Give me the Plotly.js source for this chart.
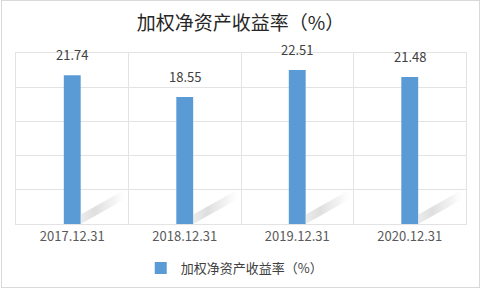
<!DOCTYPE html>
<html>
<head>
<meta charset="utf-8">
<script src="https://cdn.plot.ly/plotly-3.0.1.min.js"></script>
<style>
  html, body { margin: 0; padding: 0; background: #ffffff; }
  #wrap { position: relative; width: 481px; height: 289px; }
  #chart { position: absolute; left: 0; top: 0; width: 481px; height: 289px; }
  #frame { position: absolute; left: 1px; top: 0px; width: 477px; height: 286px;
           border: 1px solid #d9d9d9; pointer-events: none; }
</style>
</head>
<body>
<div id="wrap">
  <div id="chart"></div>
  <div id="frame"></div>
</div>
<script>
// Weighted return on equity by reporting date
const seriesName = '加权净资产收益率（%）';
const dates = ['2017.12.31', '2018.12.31', '2019.12.31', '2020.12.31'];
const roe = [21.74, 18.55, 22.51, 21.48];

const FONT = '"Microsoft YaHei", "Noto Sans CJK SC", "Noto Sans", sans-serif';
const BLUE = '#5b9bd5';

const traces = [];

// soft floor shadow behind each bar, drawn on a hidden numeric axis
dates.forEach(function (d, i) {
  traces.push({
    type: 'scatter',
    x: [i + 0.075, i + 0.075, i + 0.5, i + 0.5],
    y: [0.0, 1.4, 5.3, 3.9],
    xaxis: 'x2',
    yaxis: 'y',
    mode: 'lines',
    line: { width: 0 },
    fill: 'toself',
    fillcolor: 'rgba(200,200,200,0.4)',
    fillgradient: {
      type: 'horizontal',
      colorscale: [[0, 'rgba(215,215,215,0.5)'], [0.3, 'rgba(205,205,205,0.65)'], [0.7, 'rgba(225,225,225,0.4)'], [1, 'rgba(255,255,255,0)']]
    },
    showlegend: false,
    hoverinfo: 'skip'
  });
});

traces.push({
  type: 'bar',
  name: seriesName,
  x: dates,
  y: roe,
  width: 0.15,
  marker: { color: BLUE },
  hoverinfo: 'x+y'
});

const annotations = dates.map(function (d, i) {
  return {
    x: d, y: roe[i], xref: 'x', yref: 'y',
    text: roe[i].toFixed(2),
    showarrow: false, yanchor: 'bottom', yshift: 9,
    font: { family: FONT, size: 13, color: '#404040' }
  };
});

const layout = {
  width: 481, height: 289,
  margin: { l: 16, r: 15, t: 53, b: 65 },
  paper_bgcolor: '#ffffff',
  plot_bgcolor: '#ffffff',
  title: {
    text: seriesName,
    x: 0.5, xanchor: 'center',
    y: 1 - 23 / 289, yanchor: 'middle',
    font: { family: FONT, size: 19, color: '#262626' }
  },
  xaxis: {
    type: 'category',
    range: [-0.5, 3.5],
    tickson: 'boundaries',
    ticks: '',
    showgrid: true,
    gridcolor: '#e3e3e3',
    showline: true, mirror: true, linecolor: '#e3e3e3', linewidth: 1,
    tickfont: { family: FONT, size: 13, color: '#595959' },
    fixedrange: true
  },
  xaxis2: {
    overlaying: 'x',
    range: [-0.5, 3.5],
    visible: false,
    fixedrange: true
  },
  yaxis: {
    range: [0, 25],
    dtick: 5,
    showticklabels: false,
    ticks: '',
    showgrid: true,
    gridcolor: '#e3e3e3',
    zeroline: false,
    showline: true, mirror: true, linecolor: '#e3e3e3',
    fixedrange: true
  },
  showlegend: true,
  legend: {
    orientation: 'h',
    x: 0.485, xanchor: 'center',
    yref: 'container',
    y: 1 - 268 / 289, yanchor: 'middle',
    font: { family: FONT, size: 13, color: '#404040' },
    itemwidth: 30
  },
  annotations: annotations,
  bargap: 0.85
};

Plotly.newPlot('chart', traces, layout, { displayModeBar: false, staticPlot: true });
</script>
</body>
</html>
